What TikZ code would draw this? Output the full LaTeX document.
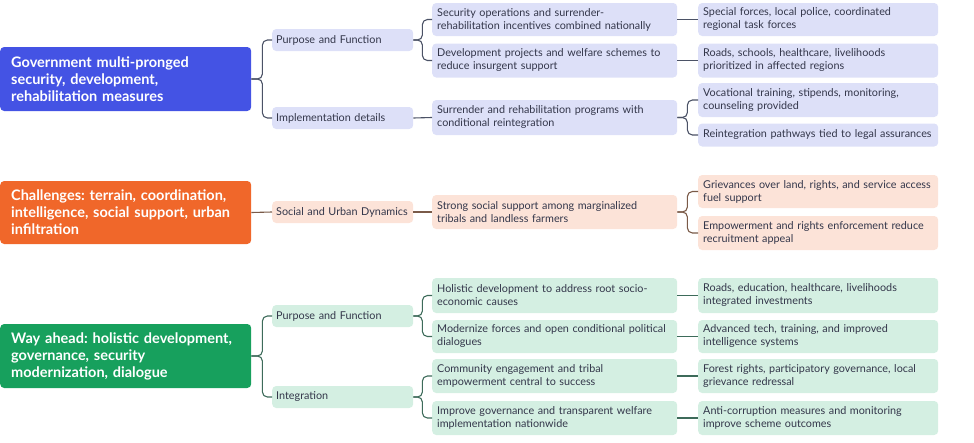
\documentclass[tikz,border=0pt]{standalone}
\usepackage{fontspec}
\setmainfont{Lato}
\frenchspacing
\hyphenpenalty=10000
\hbadness=10000
\hfuzz=30pt
\definecolor{bRoot}{HTML}{4453E4}
\definecolor{bLight}{HTML}{DDE0F8}
\definecolor{bLine}{HTML}{4B5266}
\definecolor{oRoot}{HTML}{F0672A}
\definecolor{oLight}{HTML}{FCE3D8}
\definecolor{oLine}{HTML}{7A5A48}
\definecolor{gRoot}{HTML}{17A05D}
\definecolor{gLight}{HTML}{D4EFE2}
\definecolor{gLine}{HTML}{3D6B5A}
\definecolor{txt}{HTML}{33364A}
\tikzset{
  base/.style={anchor=west, rounded corners=4pt, inner xsep=5pt, inner ysep=0pt, align=left, font=\fontsize{10.8}{13}\selectfont, text=txt},
  root/.style={base, inner xsep=11pt, text width=229pt, minimum height=64pt, text=white, font=\fontsize{14.5}{17}\selectfont\bfseries},
  lone/.style={base, inner xsep=4pt, text width=133pt, minimum height=22pt},
  ltwo/.style={base, text width=235pt, minimum height=34pt},
  lthree/.style={base, text width=230pt, minimum height=34pt},
  conn/.style={line width=1.1pt, rounded corners=5pt},
}
\begin{document}
\frenchspacing
\hyphenpenalty=10000
\begin{tikzpicture}[x=1pt,y=-1pt]
\useasboundingbox (0,0) rectangle (974,442);
% ---------- blue section
\node[root, fill=bRoot] (r1) at (0,79) {Government multi-pronged\\security, development,\\rehabilitation measures};
\node[lone, fill=bLight] (a1) at (272,40) {Purpose and Function};
\node[lone, fill=bLight] (a2) at (272,118) {Implementation details};
\node[ltwo, fill=bLight, minimum height=33pt] (b1) at (432,19.5) {Security operations and surrender-\\rehabilitation incentives combined nationally};
\node[ltwo, fill=bLight] (b2) at (432,60.5) {Development projects and welfare schemes to\\reduce insurgent support};
\node[ltwo, fill=bLight, minimum height=35pt] (b3) at (432,117.5) {Surrender and rehabilitation programs with\\conditional reintegration};
\node[lthree, fill=bLight, minimum height=33pt] (c1) at (698,19.5) {Special forces, local police, coordinated\\regional task forces};
\node[lthree, fill=bLight] (c2) at (698,60.5) {Roads, schools, healthcare, livelihoods\\prioritized in affected regions};
\node[lthree, fill=bLight] (c3) at (698,100) {Vocational training, stipends, monitoring,\\counseling provided};
\node[lthree, fill=bLight, minimum height=23pt] (c4) at (698,135) {Reintegration pathways tied to legal assurances};
\draw[conn, bLine] (r1.east) -- ++(11,0) |- (a1.west);
\draw[conn, bLine] (r1.east) -- ++(11,0) |- (a2.west);
\draw[conn, bLine] (a1.east) -- ++(9,0) |- (b1.west);
\draw[conn, bLine] (a1.east) -- ++(9,0) |- (b2.west);
\draw[conn, bLine] (a2.east) -- (b3.west);
\draw[conn, bLine] (b1.east) -- (c1.west);
\draw[conn, bLine] (b2.east) -- (c2.west);
\draw[conn, bLine] (b3.east) -- ++(10,0) |- (c3.west);
\draw[conn, bLine] (b3.east) -- ++(10,0) |- (c4.west);
% ---------- orange section
\node[root, fill=oRoot, minimum height=63pt] (r2) at (0,212.5) {Challenges: terrain, coordination,\\intelligence, social support, urban\\infiltration};
\node[lone, fill=oLight] (a3) at (272,212) {Social and Urban Dynamics};
\node[ltwo, fill=oLight] (b4) at (432,212) {Strong social support among marginalized\\tribals and landless farmers};
\node[lthree, fill=oLight, minimum height=33pt] (c5) at (698,191.5) {Grievances over land, rights, and service access\\fuel support};
\node[lthree, fill=oLight] (c6) at (698,233) {Empowerment and rights enforcement reduce\\recruitment appeal};
\draw[conn, oLine] (r2.east) -- (a3.west);
\draw[conn, oLine] (a3.east) -- (b4.west);
\draw[conn, oLine] (b4.east) -- ++(10,0) |- (c5.west);
\draw[conn, oLine] (b4.east) -- ++(10,0) |- (c6.west);
% ---------- green section
\node[root, fill=gRoot] (r3) at (0,356) {Way ahead: holistic development,\\governance, security\\modernization, dialogue};
\node[lone, fill=gLight] (a4) at (272,316) {Purpose and Function};
\node[lone, fill=gLight] (a5) at (272,397) {Integration};
\node[ltwo, fill=gLight, minimum height=35pt] (b5) at (432,295.5) {Holistic development to address root socio-\\economic causes};
\node[ltwo, fill=gLight, minimum height=33pt] (b6) at (432,336.5) {Modernize forces and open conditional political\\dialogues};
\node[ltwo, fill=gLight] (b7) at (432,376) {Community engagement and tribal\\empowerment central to success};
\node[ltwo, fill=gLight] (b8) at (432,418) {Improve governance and transparent welfare\\implementation nationwide};
\node[lthree, fill=gLight, minimum height=35pt] (c7) at (698,295.5) {Roads, education, healthcare, livelihoods\\integrated investments};
\node[lthree, fill=gLight, minimum height=33pt] (c8) at (698,336.5) {Advanced tech, training, and improved\\intelligence systems};
\node[lthree, fill=gLight] (c9) at (698,376) {Forest rights, participatory governance, local\\grievance redressal};
\node[lthree, fill=gLight] (c10) at (698,418) {Anti-corruption measures and monitoring\\improve scheme outcomes};
\draw[conn, gLine] (r3.east) -- ++(11,0) |- (a4.west);
\draw[conn, gLine] (r3.east) -- ++(11,0) |- (a5.west);
\draw[conn, gLine] (a4.east) -- ++(9,0) |- (b5.west);
\draw[conn, gLine] (a4.east) -- ++(9,0) |- (b6.west);
\draw[conn, gLine] (a5.east) -- ++(9,0) |- (b7.west);
\draw[conn, gLine] (a5.east) -- ++(9,0) |- (b8.west);
\draw[conn, gLine] (b5.east) -- (c7.west);
\draw[conn, gLine] (b6.east) -- (c8.west);
\draw[conn, gLine] (b7.east) -- (c9.west);
\draw[conn, gLine] (b8.east) -- (c10.west);
\end{tikzpicture}
\end{document}
